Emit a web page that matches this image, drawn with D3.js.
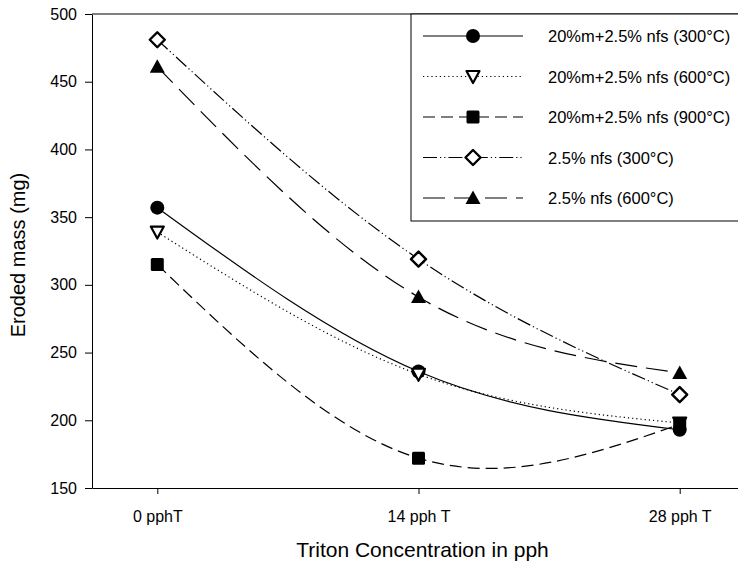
<!DOCTYPE html>
<html lang="en">
<head>
<meta charset="UTF-8">
<title>Eroded mass vs Triton concentration</title>
<script src="https://d3js.org/d3.v7.min.js"></script>
<style>
  body { margin: 0; background: #fff; }
  svg text { font-family: Arial, "Liberation Sans", sans-serif; fill: #000; }
  .line { fill: none; stroke: #000; stroke-width: 1.2px; }
</style>
</head>
<body>
<svg id="chart" width="738" height="566"></svg>
<script>
    // data
    const categories = ["0 pphT", "14 pph T", "28 pph T"];
    const yTicks = [150, 200, 250, 300, 350, 400, 450, 500];

    const s300 = [357, 236, 193];   // 20%m+2.5% nfs (300°C)
    const s600 = [339, 234, 198];   // 20%m+2.5% nfs (600°C)
    const s900 = [315, 172, 197];   // 20%m+2.5% nfs (900°C)
    const n300 = [481, 319, 219];   // 2.5% nfs (300°C)
    const n600 = [461, 291, 235];   // 2.5% nfs (600°C)

    const seriesNames = [
        "20%m+2.5% nfs (300°C)",
        "20%m+2.5% nfs (600°C)",
        "20%m+2.5% nfs (900°C)",
        "2.5% nfs (300°C)",
        "2.5% nfs (600°C)"
    ];

    const series = [
        {name: seriesNames[0], values: s300, dash: null, marker: "circle"},
        {name: seriesNames[1], values: s600, dash: "1.2,3", marker: "triDown"},
        {name: seriesNames[2], values: s900, dash: "12,6", marker: "square"},
        {name: seriesNames[3], values: n300, dash: "14,3,1.2,3,1.2,3", marker: "diamond"},
        {name: seriesNames[4], values: n600, dash: "22,9", marker: "triUp"}
    ];

    const svg = d3.select("#chart");
    const plotBox = {left: 92, right: 745, top: 14, bottom: 488};

    const x = d3.scaleLinear().domain([-0.25, 2.25]).range([plotBox.left, plotBox.right]);
    const y = d3.scaleLinear().domain([150, 500]).range([plotBox.bottom, plotBox.top]);

    // frame
    svg.append("line")
        .attr("x1", plotBox.left).attr("x2", plotBox.right)
        .attr("y1", plotBox.top).attr("y2", plotBox.top)
        .attr("stroke", "#000");

    const xAxis = d3.axisBottom(x)
        .tickValues([0, 1, 2])
        .tickFormat(i => categories[i])
        .tickSize(6).tickPadding(17).tickSizeOuter(0);
    svg.append("g")
        .attr("transform", `translate(0,${plotBox.bottom})`)
        .call(xAxis)
        .call(g => g.selectAll("text").attr("font-size", 16))
        .call(g => g.select(".domain").attr("stroke", "#000"));

    const yAxis = d3.axisLeft(y)
        .tickValues(yTicks)
        .tickSize(7).tickPadding(8).tickSizeOuter(0);
    svg.append("g")
        .attr("transform", `translate(${plotBox.left},0)`)
        .call(yAxis)
        .call(g => g.selectAll("text").attr("font-size", 16))
        .call(g => g.select(".domain").attr("stroke", "#000"));

    svg.append("text")
        .attr("x", (plotBox.left + plotBox.right) / 2 + 4).attr("y", 557)
        .attr("text-anchor", "middle").attr("font-size", 21)
        .text("Triton Concentration in pph");

    svg.append("text")
        .attr("transform", `translate(25,${(plotBox.top + plotBox.bottom) / 2 + 4}) rotate(-90)`)
        .attr("text-anchor", "middle").attr("font-size", 20)
        .text("Eroded mass (mg)");

    const line = d3.line()
        .x((d, i) => x(i))
        .y(d => y(d))
        .curve(d3.curveNatural);

    function drawMarker(g, type, cx, cy) {
        if (type === "circle") {
            g.append("circle").attr("cx", cx).attr("cy", cy).attr("r", 7).attr("fill", "#000");
        } else if (type === "square") {
            g.append("rect").attr("x", cx - 6.5).attr("y", cy - 6.5).attr("width", 13).attr("height", 13)
                .attr("rx", 1.5).attr("fill", "#000");
        } else if (type === "triDown") {
            g.append("path")
                .attr("d", `M${cx - 6.5},${cy - 5.5} L${cx + 6.5},${cy - 5.5} L${cx},${cy + 6.5} Z`)
                .attr("fill", "#fff").attr("stroke", "#000").attr("stroke-width", 2.2)
                .attr("stroke-linejoin", "round");
        } else if (type === "triUp") {
            g.append("path")
                .attr("d", `M${cx - 7.5},${cy + 6} L${cx + 7.5},${cy + 6} L${cx},${cy - 7.5} Z`)
                .attr("fill", "#000");
        } else if (type === "diamond") {
            g.append("path")
                .attr("d", `M${cx},${cy - 7.5} L${cx + 7.5},${cy} L${cx},${cy + 7.5} L${cx - 7.5},${cy} Z`)
                .attr("fill", "#fff").attr("stroke", "#000").attr("stroke-width", 2.4)
                .attr("stroke-linejoin", "round");
        }
    }

    const plot = svg.append("g");
    series.forEach(s => {
        plot.append("path")
            .datum(s.values)
            .attr("class", "line")
            .attr("stroke-dasharray", s.dash)
            .attr("d", line);
    });
    series.forEach(s => {
        s.values.forEach((v, i) => drawMarker(plot, s.marker, x(i), y(v)));
    });

    // legend
    const lg = svg.append("g");
    lg.append("rect")
        .attr("x", 411).attr("y", plotBox.top).attr("width", 340).attr("height", 207)
        .attr("fill", "#fff").attr("stroke", "#000");
    series.forEach((s, i) => {
        const ly = 36 + i * 40.5;
        lg.append("line")
            .attr("x1", 423).attr("x2", 523).attr("y1", ly).attr("y2", ly)
            .attr("class", "line")
            .attr("stroke-dasharray", s.dash);
        drawMarker(lg, s.marker, 473, ly);
        lg.append("text")
            .attr("x", 548).attr("y", ly + 6)
            .attr("font-size", 16.5)
            .text(s.name);
    });
</script>
</body>
</html>
